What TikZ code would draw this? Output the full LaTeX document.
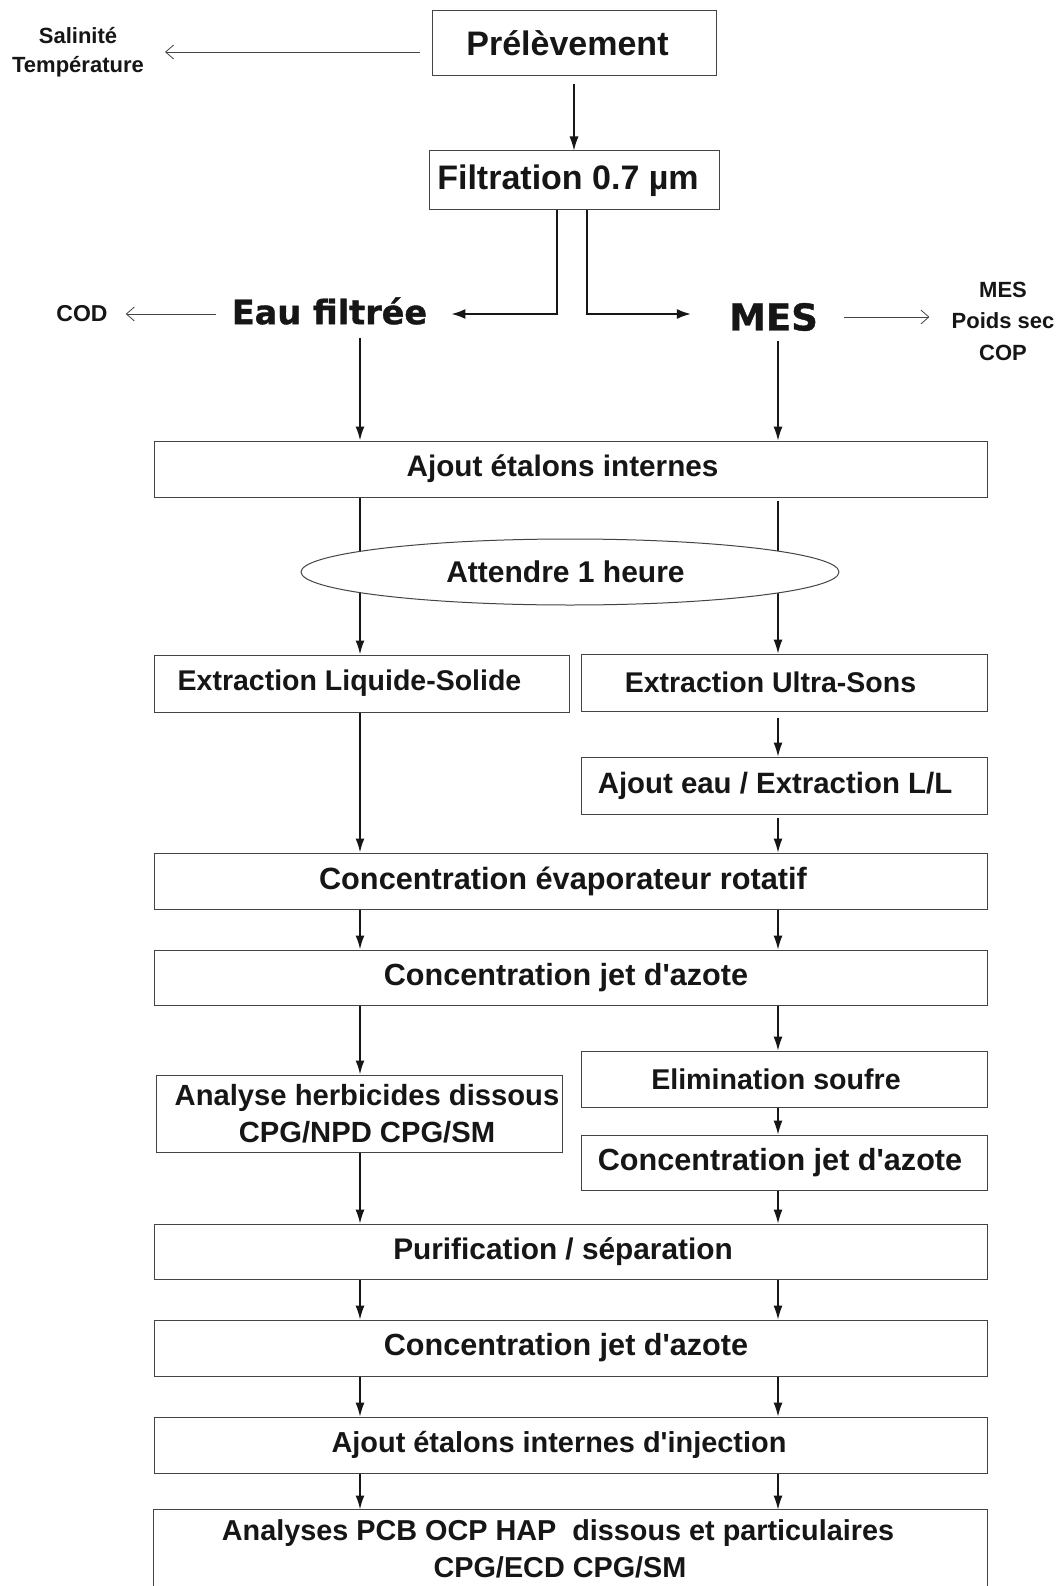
\documentclass[tikz,border=0pt]{standalone}
\usepackage{fontspec}
\setmainfont{Liberation Sans}[Ligatures=TeXOff]
\newfontfamily\heavyfont{DejaVu Sans}[Ligatures=TeXOff,BoldFeatures={FakeBold=1}]
\usetikzlibrary{arrows.meta,shapes.geometric,calc}
\definecolor{ink}{HTML}{161616}
\definecolor{frame}{HTML}{444444}
\newcommand\padR[1]{\rule{#1}{0pt}}
\begin{document}
\begin{tikzpicture}[x=1pt,y=-1pt,
  fs/.style={font=\bfseries\fontsize{#1}{37}\selectfont},
  box/.style={draw=frame, line width=1pt, inner sep=0pt, text=ink, fs=30, align=center},
  wide/.style={box, minimum width=833, minimum height=56},
  half/.style={box, minimum width=406, minimum height=57},
  lbl/.style={inner sep=0pt, text=ink, align=center},
  big/.style={inner sep=0pt, text=ink},
  flowL/.style={draw=ink, line width=1.8pt, -{Latex[length=14pt,width=9pt]}},
  flowR/.style={draw=ink, line width=1.1pt, -{Latex[length=14pt,width=9pt]}},
  split/.style={draw=ink, line width=2pt, -{Latex[length=14pt,width=10pt]}},
  side/.style={draw=frame, line width=0.8pt, -{Straight Barb[length=8pt,width=14pt]}},
  rim/.style={draw=frame, line width=1pt}
]
\useasboundingbox (0,0) rectangle (1061,1586);
\fill[white] (0,0) rectangle (1061,1586);

\coordinate (L) at (360,0);
\coordinate (R) at (778,0);

% top
\node[box, minimum width=284, minimum height=65, fs=34] (prel) at (574,43.5) {Prélèvement\padR{13pt}};
\node[box, minimum width=290, minimum height=59, fs=34] (filt) at (574,180.5) {Filtration 0.7 µm\padR{12pt}};
\node[lbl, font=\bfseries\fontsize{22}{29}\selectfont] (sal) at (78,52) {Salinité\\Température};

\draw[side] ([xshift=-12pt]prel.west |- sal.east) -- ([xshift=21pt]sal.east);
\draw[flowR] ([yshift=-8pt]prel.south -| filt.south) -- (filt.north);

% split
\node[big, font=\heavyfont\bfseries\fontsize{33.5}{40}\selectfont] (eau) at (329.5,311) {Eau filtrée};
\node[big, font=\heavyfont\bfseries\fontsize{37}{44}\selectfont] (mes) at (773.5,317) {MES};
\node[lbl, font=\bfseries\fontsize{23}{30}\selectfont] (cod) at (82,314) {COD};
\node[lbl, font=\bfseries\fontsize{22}{31.5}\selectfont] (mesr) at (1003,321) {MES\\Poids sec\\COP};

\draw[split] ([xshift=-17pt]filt.south) |- ([xshift=24pt,yshift=-3pt]eau.east);
\draw[split] ([xshift=13pt]filt.south) |- ([xshift=-38pt,yshift=3pt]mes.west);
\draw[side] ([xshift=-16pt]eau.west |- cod.east) -- ([xshift=18pt]cod.east);
\draw[side] ([xshift=26pt]mes.east) -- ([xshift=-22pt]mes.east -| mesr.west);

% main boxes
\node[wide, fs=29.7] (aj1) at (570.5,469) {Ajout étalons internes\padR{16pt}};
\draw[flowL, shorten <=13pt] (eau.south -| L) -- (aj1.north -| L);
\draw[flowR, shorten <=10pt] (mes.south -| R) -- (aj1.north -| R);

\node[box, minimum width=415, minimum height=57, fs=28.5] (exls) at (361.5,683.5) {Extraction Liquide-Solide\padR{24pt}};
\node[half, fs=28.5] (exus) at (784,682.5) {Extraction Ultra-Sons\padR{27pt}};
\draw[flowL] (aj1.south -| L) -- (exls.north -| L);
\draw[flowR, shorten <=3pt] (aj1.south -| R) -- (exus.north -| R);

\node[ellipse, draw=frame, line width=1pt, fill=white, inner sep=0pt, minimum width=538, minimum height=66,
  text=ink, fs=30] (wait) at (570,572) {Attendre 1 heure\padR{9pt}};

\node[half, fs=29.4] (eaull) at (784,785.5) {Ajout eau / Extraction L/L\padR{18pt}};
\draw[flowR, shorten <=6pt] (exus.south -| R) -- (eaull.north -| R);

\node[wide, fs=30.7] (evap) at (570.5,881) {Concentration évaporateur rotatif\padR{15pt}};
\draw[flowL] (exls.south -| L) -- (evap.north -| L);
\draw[flowR, shorten <=3pt] (eaull.south -| R) -- (evap.north -| R);

\node[wide, minimum height=55, fs=30.6] (jet1) at (570.5,977.5) {Concentration jet d'azote\padR{9pt}};
\draw[flowL] (evap.south -| L) -- (jet1.north -| L);
\draw[flowR] (evap.south -| R) -- (jet1.north -| R);

\node[box, minimum width=406, minimum height=77, fs=29.2] (herb) at (359,1113.5) {\padR{16pt}Analyse herbicides dissous\\\padR{16pt}CPG/NPD CPG/SM};
\node[half, minimum height=56, fs=28.6] (elim) at (784.5,1079) {Elimination soufre\padR{17pt}};
\node[half, minimum height=55, fs=30.6] (jet2) at (784.5,1162.5) {Concentration jet d'azote\padR{9pt}};
\draw[flowL] (jet1.south -| L) -- (herb.north -| L);
\draw[flowR] (jet1.south -| R) -- (elim.north -| R);
\draw[flowR] (elim.south -| R) -- (jet2.north -| R);

\node[wide, minimum height=55, fs=29.8] (purif) at (570.5,1251.5) {Purification / séparation\padR{15pt}};
\draw[flowR] (herb.south -| L) -- (purif.north -| L);
\draw[flowR] (jet2.south -| R) -- (purif.north -| R);

\node[wide, fs=30.6] (jet3) at (570.5,1348) {Concentration jet d'azote\padR{9pt}};
\draw[flowR] (purif.south -| L) -- (jet3.north -| L);
\draw[flowR] (purif.south -| R) -- (jet3.north -| R);

\node[wide, fs=28.9] (inj) at (570.5,1445) {Ajout étalons internes d'injection\padR{23pt}};
\draw[flowR] (jet3.south -| L) -- (inj.north -| L);
\draw[flowR] (jet3.south -| R) -- (inj.north -| R);

\node[box, draw=none, minimum width=833, minimum height=77, fs=28.8] (fin) at (570.5,1548.5) {Analyses PCB OCP HAP\ \ dissous et particulaires\padR{25pt}\\CPG/ECD CPG/SM\padR{21pt}};
\draw[rim] (fin.south west) -- (fin.north west) -- (fin.north east) -- (fin.south east);
\draw[flowL] (inj.south -| L) -- (fin.north -| L);
\draw[flowR] (inj.south -| R) -- (fin.north -| R);
\end{tikzpicture}
\end{document}
